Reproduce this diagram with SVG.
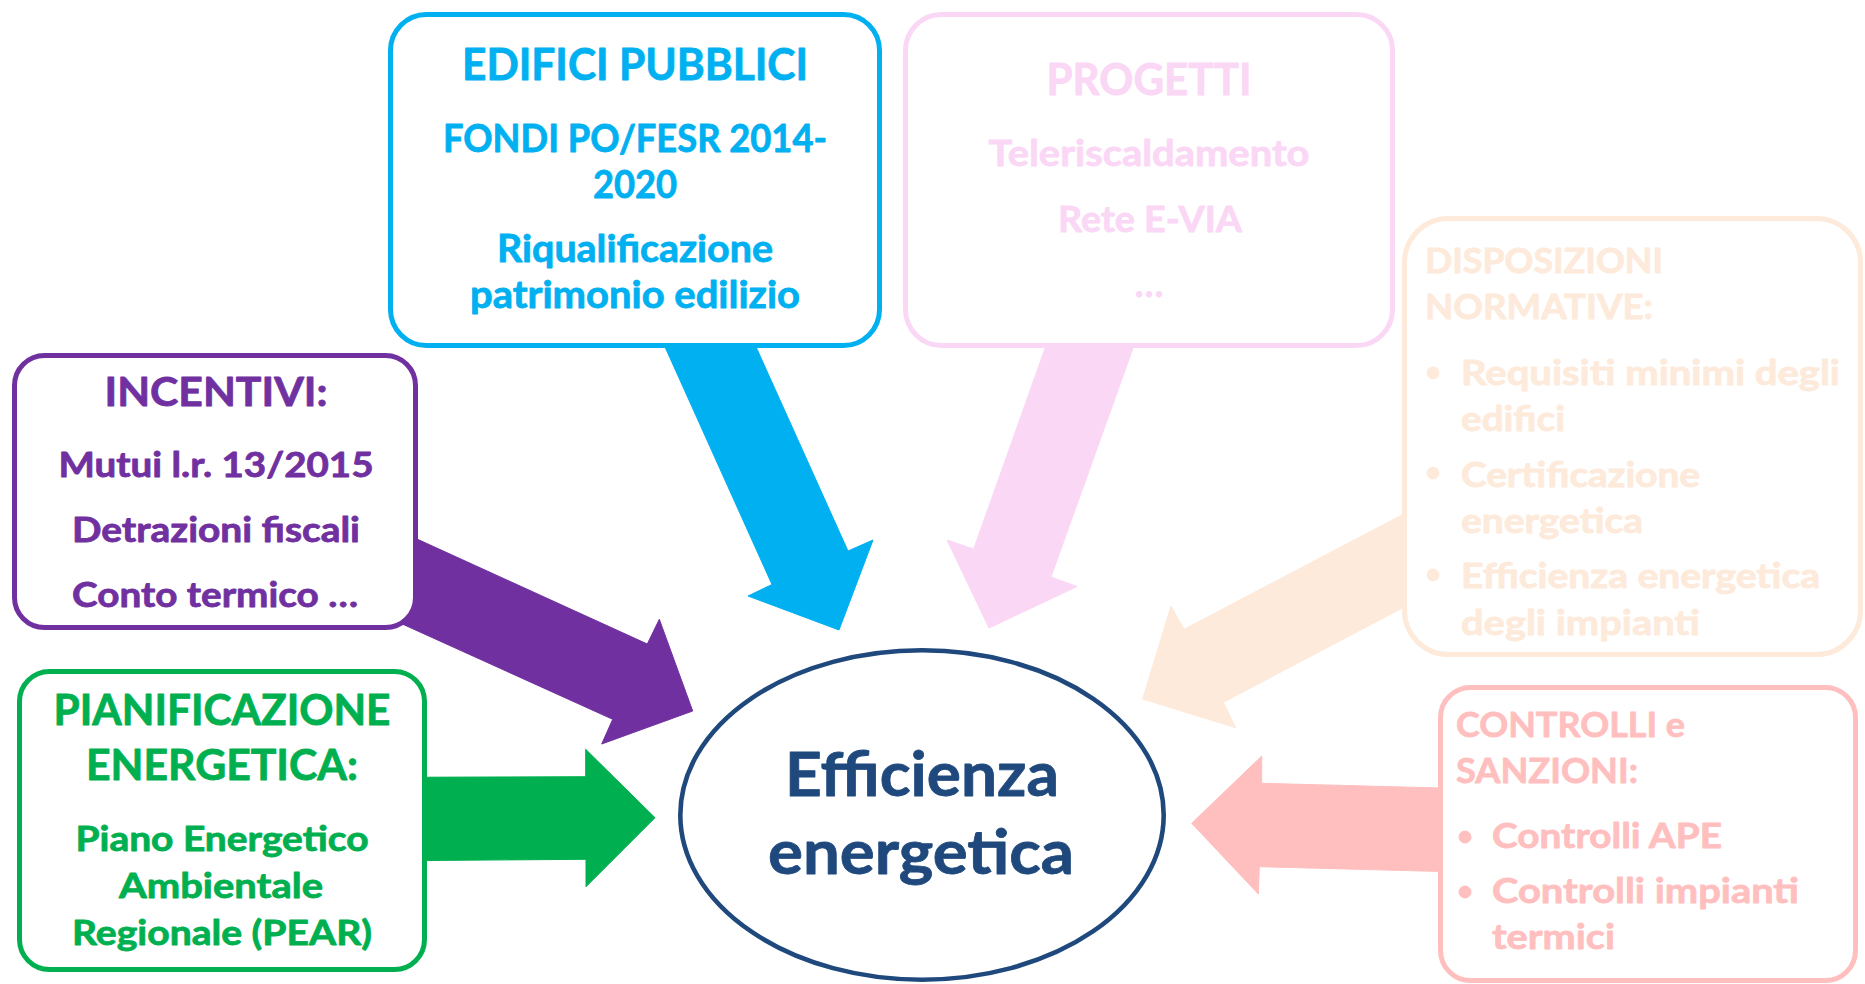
<svg xmlns="http://www.w3.org/2000/svg" width="1865" height="984" viewBox="0 0 1865 984">
<style>
text{font-family:Lato,"Open Sans","Liberation Sans",sans-serif;font-weight:700;stroke-width:0.8;stroke-linejoin:round;}
.c{text-anchor:middle;}
.box{fill:#FFFFFF;stroke-width:5;}
.blue{fill:#00B0F0;stroke:#00B0F0;} .pink{fill:#FBD7F6;stroke:#FBD7F6;} .purple{fill:#7030A0;stroke:#7030A0;} .green{fill:#00B050;stroke:#00B050;} .peach{fill:#FDEADA;stroke:#FDEADA;} .salmon{fill:#FFBFBF;stroke:#FFBFBF;} .navy{fill:#1F497D;stroke:#1F497D;}
polygon,circle{stroke:none;}
</style>
<rect width="1865" height="984" fill="#FFFFFF"/>
<g id="connectors">
<polygon class="blue" points="657.4,330 748.4,330 848,551 873,540 839,630 748,596 772,584.5"/>
<polygon class="pink" points="1051.5,330 1139.5,330 1051,577 1077,586.6 989,628 947,540 973.7,549"/>
<polygon class="purple" points="395,529 647.3,644 659.3,619.3 692.7,711 601.7,744 612.7,719.3 395,620.7"/>
<polygon class="green" points="400,777.3 585.7,776.7 585.7,749.3 655,817.7 586,886.7 586,859.3 400,860.7"/>
<polygon class="peach" points="1420,505.4 1184,629.3 1171,606 1142.7,699 1235.7,727.7 1223.3,702.3 1420,598.7"/>
<polygon class="salmon" points="1460,788.5 1261.7,783.3 1261.7,756 1191.7,823.3 1258.3,894 1259.3,866.7 1460,872"/>
</g>
<g id="edifici-pubblici">
<rect class="box" x="390.5" y="14.5" width="489" height="331" rx="36" stroke="#00B0F0"/>
<text class="c blue" x="635" y="80" font-size="44" textLength="346" lengthAdjust="spacingAndGlyphs">EDIFICI PUBBLICI</text>
<text class="c blue" x="635" y="152" font-size="38" textLength="384" lengthAdjust="spacingAndGlyphs">FONDI PO/FESR 2014-</text>
<text class="c blue" x="635" y="198" font-size="38" textLength="84" lengthAdjust="spacingAndGlyphs">2020</text>
<text class="c blue" x="635" y="262" font-size="38" textLength="276" lengthAdjust="spacingAndGlyphs">Riqualificazione</text>
<text class="c blue" x="635" y="308" font-size="38" textLength="330" lengthAdjust="spacingAndGlyphs">patrimonio edilizio</text>
</g>
<g id="progetti">
<rect class="box" x="905.5" y="14.5" width="487" height="331" rx="36" stroke="#FBD7F6"/>
<text class="c pink" x="1149" y="95" font-size="44" textLength="205" lengthAdjust="spacingAndGlyphs">PROGETTI</text>
<text class="c pink" x="1149" y="166" font-size="37" textLength="321" lengthAdjust="spacingAndGlyphs">Teleriscaldamento</text>
<text class="c pink" x="1150" y="232" font-size="37" textLength="184" lengthAdjust="spacingAndGlyphs">Rete E-VIA</text>
<text class="c pink" x="1149" y="297" font-size="37">…</text>
</g>
<g id="incentivi">
<rect class="box" x="14.5" y="355.5" width="401" height="272" rx="30" stroke="#7030A0"/>
<text class="c purple" x="216" y="406" font-size="40" textLength="223" lengthAdjust="spacingAndGlyphs">INCENTIVI:</text>
<text class="c purple" x="216" y="477" font-size="35" textLength="315" lengthAdjust="spacingAndGlyphs">Mutui l.r. 13/2015</text>
<text class="c purple" x="216" y="542" font-size="35" textLength="288" lengthAdjust="spacingAndGlyphs">Detrazioni fiscali</text>
<text class="c purple" x="215" y="607" font-size="35" textLength="286" lengthAdjust="spacingAndGlyphs">Conto termico …</text>
</g>
<g id="pianificazione">
<rect class="box" x="19.5" y="671.5" width="405" height="298" rx="30" stroke="#00B050"/>
<text class="c green" x="222" y="725" font-size="42" textLength="337" lengthAdjust="spacingAndGlyphs">PIANIFICAZIONE</text>
<text class="c green" x="222" y="780" font-size="42" textLength="272" lengthAdjust="spacingAndGlyphs">ENERGETICA:</text>
<text class="c green" x="222" y="851" font-size="34" textLength="293" lengthAdjust="spacingAndGlyphs">Piano Energetico</text>
<text class="c green" x="221" y="898" font-size="34" textLength="204" lengthAdjust="spacingAndGlyphs">Ambientale</text>
<text class="c green" x="222" y="945" font-size="34" textLength="300" lengthAdjust="spacingAndGlyphs">Regionale (PEAR)</text>
</g>
<g id="disposizioni-normative">
<rect class="box" x="1404.5" y="218.5" width="456" height="436" rx="44" stroke="#FDEADA"/>
<text class="peach" x="1425" y="273" font-size="35" textLength="238" lengthAdjust="spacingAndGlyphs">DISPOSIZIONI</text>
<text class="peach" x="1425" y="319" font-size="35" textLength="228" lengthAdjust="spacingAndGlyphs">NORMATIVE:</text>
<circle class="peach" cx="1433" cy="373" r="6"/>
<text class="peach" x="1461" y="385" font-size="35" textLength="379" lengthAdjust="spacingAndGlyphs">Requisiti minimi degli</text>
<text class="peach" x="1461" y="431" font-size="35" textLength="104" lengthAdjust="spacingAndGlyphs">edifici</text>
<circle class="peach" cx="1433" cy="473" r="6"/>
<text class="peach" x="1461" y="487" font-size="35" textLength="239" lengthAdjust="spacingAndGlyphs">Certificazione</text>
<text class="peach" x="1461" y="533" font-size="35" textLength="182" lengthAdjust="spacingAndGlyphs">energetica</text>
<circle class="peach" cx="1433" cy="575" r="6"/>
<text class="peach" x="1461" y="588" font-size="35" textLength="359" lengthAdjust="spacingAndGlyphs">Efficienza energetica</text>
<text class="peach" x="1461" y="635" font-size="35" textLength="239" lengthAdjust="spacingAndGlyphs">degli impianti</text>
</g>
<g id="controlli-sanzioni">
<rect class="box" x="1440.5" y="687.5" width="415" height="293" rx="30" stroke="#FFBFBF"/>
<text class="salmon" x="1456" y="737" font-size="35" textLength="229" lengthAdjust="spacingAndGlyphs">CONTROLLI e</text>
<text class="salmon" x="1456" y="783" font-size="35" textLength="182" lengthAdjust="spacingAndGlyphs">SANZIONI:</text>
<circle class="salmon" cx="1465" cy="837" r="6"/>
<text class="salmon" x="1492" y="848" font-size="35" textLength="230" lengthAdjust="spacingAndGlyphs">Controlli APE</text>
<circle class="salmon" cx="1465" cy="892" r="6"/>
<text class="salmon" x="1492" y="903" font-size="35" textLength="307" lengthAdjust="spacingAndGlyphs">Controlli impianti</text>
<text class="salmon" x="1492" y="949" font-size="35" textLength="123" lengthAdjust="spacingAndGlyphs">termici</text>
</g>
<g id="efficienza-energetica">
<ellipse cx="922" cy="815" rx="241.7" ry="164.7" fill="#FFFFFF" stroke="#1F497D" stroke-width="4.6"/>
<text class="c navy" x="922" y="796" font-size="62" textLength="274" lengthAdjust="spacingAndGlyphs">Efficienza</text>
<text class="c navy" x="921" y="874" font-size="62" textLength="306" lengthAdjust="spacingAndGlyphs">energetica</text>
</g>
</svg>
